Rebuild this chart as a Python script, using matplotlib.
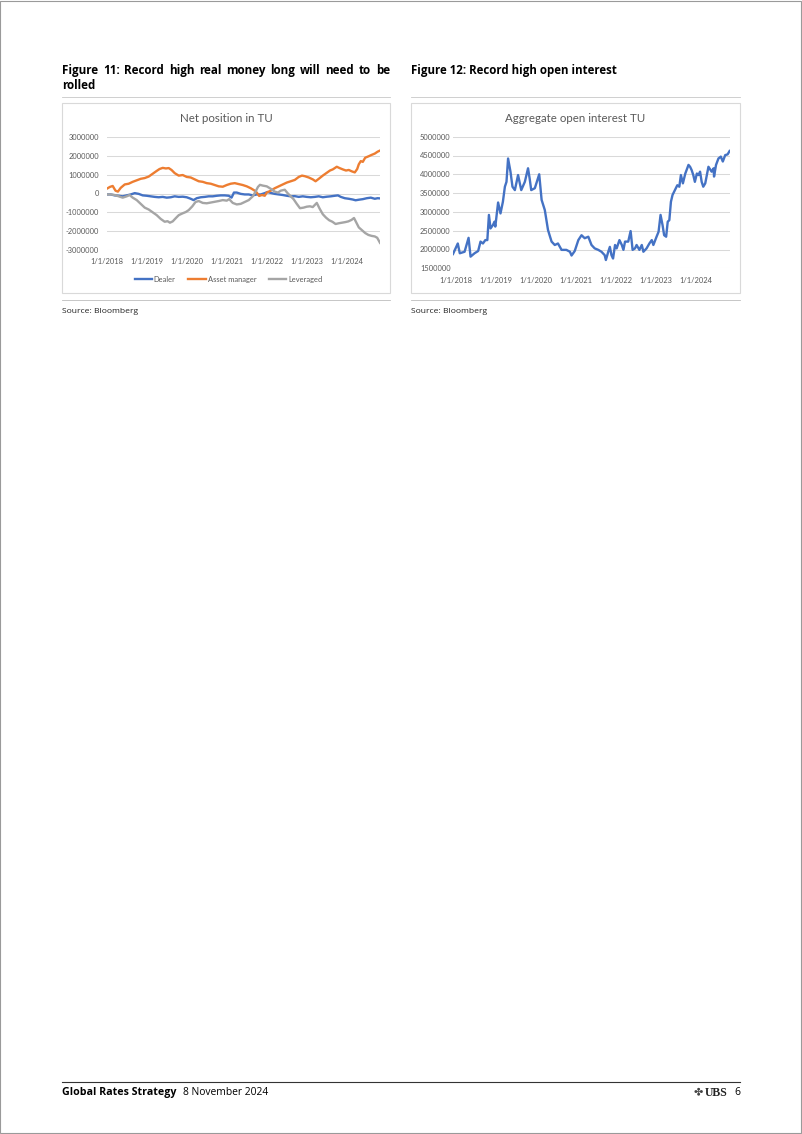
import numpy as np
import matplotlib
matplotlib.use("Agg")
import matplotlib.pyplot as plt
from matplotlib.lines import Line2D
from matplotlib.patches import Rectangle
from matplotlib.ticker import FuncFormatter

W, H = 802, 1134

# ---- Figure 11: net position in TU (x = decimal year, values in millions of contracts)
dealer_years = [2018.00, 2018.10, 2018.20, 2018.30, 2018.40, 2018.50, 2018.60, 2018.70, 2018.80, 2018.90,
                2019.00, 2019.10, 2019.20, 2019.30, 2019.40, 2019.50, 2019.60, 2019.70, 2019.80, 2019.90,
                2020.00, 2020.10, 2020.17, 2020.25, 2020.35, 2020.45, 2020.55, 2020.65, 2020.75, 2020.85,
                2020.95, 2021.05, 2021.12, 2021.18, 2021.25, 2021.35, 2021.45, 2021.55, 2021.65, 2021.75,
                2021.85, 2021.95, 2022.02, 2022.10, 2022.20, 2022.30, 2022.40, 2022.50, 2022.60, 2022.70,
                2022.80, 2022.90, 2023.00, 2023.10, 2023.20, 2023.30, 2023.40, 2023.50, 2023.60, 2023.70,
                2023.78, 2023.85, 2023.95, 2024.05, 2024.15, 2024.22, 2024.30, 2024.40, 2024.50, 2024.60,
                2024.70, 2024.77, 2024.83]
dealer_vals = [-0.05, -0.05, -0.10, -0.12, -0.15, -0.10, -0.05, 0.02, -0.02, -0.10,
               -0.12, -0.15, -0.18, -0.20, -0.18, -0.22, -0.20, -0.15, -0.18, -0.17,
               -0.20, -0.28, -0.35, -0.25, -0.20, -0.18, -0.15, -0.15, -0.12, -0.10,
               -0.10, -0.12, -0.22, 0.05, 0.05, -0.02, -0.05, -0.05, -0.10, -0.05,
               -0.05, 0.02, 0.08, 0.03, -0.02, -0.05, -0.08, -0.12, -0.15, -0.14,
               -0.18, -0.15, -0.18, -0.20, -0.18, -0.15, -0.20, -0.17, -0.15, -0.12,
               -0.10, -0.18, -0.25, -0.28, -0.32, -0.36, -0.33, -0.30, -0.25, -0.22,
               -0.28, -0.25, -0.26]

am_years = [2018.00, 2018.08, 2018.15, 2018.22, 2018.28, 2018.35, 2018.45, 2018.55, 2018.65, 2018.75,
            2018.85, 2018.95, 2019.05, 2019.15, 2019.25, 2019.32, 2019.40, 2019.48, 2019.55, 2019.62,
            2019.70, 2019.80, 2019.90, 2020.00, 2020.10, 2020.20, 2020.30, 2020.40, 2020.50, 2020.60,
            2020.70, 2020.80, 2020.90, 2021.00, 2021.10, 2021.20, 2021.30, 2021.40, 2021.50, 2021.60,
            2021.70, 2021.75, 2021.81, 2021.88, 2021.95, 2022.00, 2022.10, 2022.20, 2022.30, 2022.40,
            2022.50, 2022.60, 2022.70, 2022.80, 2022.88, 2022.95, 2023.05, 2023.15, 2023.22, 2023.30,
            2023.40, 2023.50, 2023.58, 2023.65, 2023.75, 2023.82, 2023.90, 2023.98, 2024.05, 2024.12,
            2024.20, 2024.26, 2024.30, 2024.35, 2024.40, 2024.46, 2024.55, 2024.62, 2024.70, 2024.77,
            2024.83]
am_vals = [0.25, 0.35, 0.40, 0.15, 0.10, 0.30, 0.48, 0.52, 0.62, 0.70,
           0.78, 0.82, 0.90, 1.05, 1.20, 1.30, 1.36, 1.33, 1.35, 1.25,
           1.08, 0.95, 0.98, 0.88, 0.85, 0.75, 0.65, 0.62, 0.55, 0.52,
           0.45, 0.38, 0.36, 0.45, 0.52, 0.55, 0.50, 0.45, 0.38, 0.28,
           0.15, 0.05, -0.13, -0.08, -0.12, 0.05, 0.15, 0.28, 0.38, 0.48,
           0.58, 0.65, 0.72, 0.88, 0.95, 0.92, 0.85, 0.75, 0.65, 0.78,
           0.95, 1.10, 1.22, 1.28, 1.42, 1.35, 1.28, 1.22, 1.25, 1.18,
           1.12, 1.30, 1.55, 1.72, 1.68, 1.90, 1.98, 2.05, 2.12, 2.22,
           2.28]

lev_years = [2018.00, 2018.10, 2018.20, 2018.30, 2018.40, 2018.50, 2018.57, 2018.65, 2018.75, 2018.85,
             2018.95, 2019.05, 2019.15, 2019.25, 2019.35, 2019.45, 2019.52, 2019.58, 2019.65, 2019.73,
             2019.80, 2019.90, 2019.98, 2020.05, 2020.14, 2020.22, 2020.30, 2020.40, 2020.50, 2020.60,
             2020.70, 2020.80, 2020.90, 2021.00, 2021.06, 2021.15, 2021.25, 2021.35, 2021.45, 2021.55,
             2021.65, 2021.72, 2021.78, 2021.83, 2021.90, 2022.00, 2022.10, 2022.20, 2022.28, 2022.35,
             2022.45, 2022.52, 2022.60, 2022.67, 2022.75, 2022.83, 2022.92, 2023.00, 2023.08, 2023.15,
             2023.25, 2023.32, 2023.40, 2023.48, 2023.56, 2023.64, 2023.72, 2023.80, 2023.88, 2023.96,
             2024.04, 2024.12, 2024.18, 2024.24, 2024.30, 2024.38, 2024.46, 2024.54, 2024.62, 2024.70,
             2024.76, 2024.83]
lev_vals = [-0.05, -0.05, -0.08, -0.15, -0.22, -0.15, -0.08, -0.22, -0.35, -0.55,
            -0.75, -0.85, -1.00, -1.15, -1.35, -1.50, -1.47, -1.55, -1.48, -1.30,
            -1.15, -1.05, -0.98, -0.88, -0.68, -0.45, -0.40, -0.50, -0.52, -0.48,
            -0.44, -0.40, -0.35, -0.38, -0.30, -0.50, -0.58, -0.55, -0.45, -0.35,
            -0.15, 0.10, 0.35, 0.46, 0.42, 0.38, 0.25, 0.10, 0.05, 0.15,
            0.20, 0.02, -0.15, -0.30, -0.55, -0.78, -0.75, -0.70, -0.68, -0.72,
            -0.50, -0.80, -1.10, -1.28, -1.42, -1.50, -1.62, -1.58, -1.55, -1.52,
            -1.48, -1.40, -1.30, -1.55, -1.80, -1.95, -2.10, -2.20, -2.25, -2.28,
            -2.35, -2.62]

# ---- Figure 12: aggregate open interest TU (millions of contracts)
oi_years = [2017.92, 2018.04, 2018.09, 2018.21, 2018.31, 2018.36, 2018.46, 2018.55, 2018.61, 2018.67,
            2018.73, 2018.78, 2018.82, 2018.86, 2018.92, 2018.96, 2018.98, 2019.05, 2019.11, 2019.17,
            2019.22, 2019.26, 2019.30, 2019.36, 2019.41, 2019.47, 2019.55, 2019.63, 2019.72, 2019.80,
            2019.84, 2019.88, 2019.97, 2020.08, 2020.14, 2020.22, 2020.30, 2020.34, 2020.39, 2020.47,
            2020.55, 2020.64, 2020.76, 2020.85, 2020.89, 2020.97, 2021.06, 2021.14, 2021.22, 2021.31,
            2021.39, 2021.47, 2021.56, 2021.64, 2021.72, 2021.75, 2021.81, 2021.85, 2021.89, 2021.93,
            2021.98, 2022.02, 2022.09, 2022.15, 2022.19, 2022.23, 2022.31, 2022.37, 2022.42, 2022.48,
            2022.52, 2022.59, 2022.65, 2022.69, 2022.77, 2022.84, 2022.90, 2022.94, 2023.02, 2023.07,
            2023.12, 2023.17, 2023.21, 2023.26, 2023.30, 2023.34, 2023.38, 2023.42, 2023.48, 2023.54,
            2023.59, 2023.63, 2023.68, 2023.74, 2023.82, 2023.86, 2023.90, 2023.94, 2023.98, 2024.03,
            2024.07, 2024.11, 2024.15, 2024.19, 2024.24, 2024.28, 2024.32, 2024.40, 2024.45, 2024.46,
            2024.51, 2024.57, 2024.63, 2024.68, 2024.74, 2024.80, 2024.85]
oi_vals = [1.88, 2.16, 1.90, 1.94, 2.31, 1.81, 1.90, 1.96, 2.21, 2.16,
           2.25, 2.25, 2.92, 2.56, 2.65, 2.74, 2.61, 3.25, 2.96, 3.27,
           3.67, 3.80, 4.42, 4.07, 3.67, 3.58, 3.98, 3.58, 3.80, 4.16,
           3.89, 3.58, 3.63, 4.00, 3.32, 3.05, 2.52, 2.38, 2.21, 2.12,
           2.16, 1.99, 1.99, 1.94, 1.84, 1.96, 2.25, 2.38, 2.30, 2.34,
           2.12, 2.03, 1.99, 1.94, 1.85, 1.72, 1.94, 2.07, 1.85, 1.76,
           2.12, 2.03, 2.25, 2.12, 1.99, 2.21, 2.21, 2.49, 1.99, 2.03,
           2.12, 1.99, 2.12, 1.94, 2.03, 2.16, 2.25, 2.12, 2.34, 2.47,
           2.92, 2.65, 2.38, 2.34, 2.74, 2.78, 3.27, 3.45, 3.58, 3.71,
           3.67, 3.98, 3.76, 4.02, 4.25, 4.20, 4.11, 3.98, 3.80, 4.02,
           3.98, 4.07, 3.80, 3.67, 3.76, 3.98, 4.20, 4.07, 4.16, 3.94,
           4.25, 4.42, 4.47, 4.34, 4.51, 4.53, 4.62]

tick_years = [2018, 2019, 2020, 2021, 2022, 2023, 2024]
tick_labels = ["1/1/2018", "1/1/2019", "1/1/2020", "1/1/2021", "1/1/2022", "1/1/2023", "1/1/2024"]
net_yticks = [-3000000, -2000000, -1000000, 0, 1000000, 2000000, 3000000]
oi_yticks = [1500000, 2000000, 2500000, 3000000, 3500000, 4000000, 4500000, 5000000]

BLUE, ORANGE, GREY = "#4472C4", "#ED7D31", "#A5A5A5"
TXT = "#595959"
DOC_FONT = ["Open Sans", "DejaVu Sans"]
plt.rcParams["font.family"] = ["Lato", "DejaVu Sans"]


def fx(x):
    return x / W


def fy(y):
    return 1 - y / H


fig = plt.figure(figsize=(W / 100, H / 100), dpi=100)


def hline(x0, x1, y, color, lw):
    fig.add_artist(Line2D([fx(x0), fx(x1)], [fy(y), fy(y)], color=color, lw=lw))


def box(x0, y0, x1, y1):
    fig.add_artist(Rectangle((fx(x0), fy(y1)), (x1 - x0) / W, (y1 - y0) / H,
                             transform=fig.transFigure, fill=False, ec="#d9d9d9", lw=0.8))


def justify(text, x0, x1, y, **kw):
    # spread words across the column like the justified report text
    words = text.split()
    objs = [fig.text(0, fy(y), w, va="baseline", ha="left", **kw) for w in words]
    r = fig.canvas.get_renderer()
    widths = [t.get_window_extent(r).width for t in objs]
    gap = ((x1 - x0) - sum(widths)) / (len(words) - 1)
    x = x0
    for t, w in zip(objs, widths):
        t.set_x(fx(x))
        x += w + gap


def style(ax, yticks, ypad, xpad):
    for s in ax.spines.values():
        s.set_visible(False)
    ax.set_yticks(yticks)
    ax.yaxis.set_major_formatter(FuncFormatter(lambda v, p: f"{int(round(v))}"))
    ax.yaxis.grid(True, color="#d9d9d9", lw=0.75)
    ax.set_axisbelow(True)
    ax.set_xticks(tick_years)
    ax.set_xticklabels(tick_labels)
    ax.tick_params(axis="both", length=0, labelsize=5.4, labelcolor=TXT)
    ax.tick_params(axis="y", pad=ypad)
    ax.tick_params(axis="x", pad=xpad)
    ax.set_ylim(yticks[0], yticks[-1])


# page frame
fig.add_artist(Rectangle((0.0006, 0.0005), 0.9985, 0.999, transform=fig.transFigure,
                         fill=False, ec="#9a9a9a", lw=0.8))

# ---------------- left panel
justify("Figure 11: Record high real money long will need to be", 62, 390, 74,
        fontsize=8.4, fontweight="bold", family=DOC_FONT, color="black")
fig.text(fx(62), fy(89), "rolled", fontsize=8.4, fontweight="bold", family=DOC_FONT,
         va="baseline", ha="left", color="black")
hline(62, 390, 96.7, "#c8c8c8", 0.6)
box(62, 103, 390, 293)
hline(62, 390, 300, "#bdbdbd", 0.6)
fig.text(fx(62), fy(311.5), "Source: Bloomberg", fontsize=6.1, family=DOC_FONT,
         va="center", ha="left", color="#222222")
fig.text(fx(226), fy(118.5), "Net position in TU", fontsize=8.3, color=TXT, ha="center", va="center")

ax1 = fig.add_axes([fx(106.7), fy(250), (380 - 106.7) / W, (250 - 137) / H])
ax1.plot(dealer_years, np.array(dealer_vals) * 1e6, color=BLUE, lw=1.7, label="Dealer")
ax1.plot(am_years, np.array(am_vals) * 1e6, color=ORANGE, lw=1.7, label="Asset manager")
ax1.plot(lev_years, np.array(lev_vals) * 1e6, color=GREY, lw=1.7, label="Leveraged")
ax1.set_xlim(2018.0, 2024.83)
style(ax1, net_yticks, 5.5, 6.0)
leg = ax1.legend(loc="center", bbox_to_anchor=(fx(228.5), fy(279.5)), bbox_transform=fig.transFigure,
                 ncol=3, frameon=False, fontsize=5.4, handlelength=2.3, handletextpad=0.25,
                 columnspacing=1.7)
for t in leg.get_texts():
    t.set_color(TXT)

# ---------------- right panel
fig.text(fx(411), fy(74), "Figure 12: Record high open interest", fontsize=8.3, fontweight="bold",
         family=DOC_FONT, va="baseline", ha="left", color="black")
hline(411, 740, 96.7, "#c8c8c8", 0.6)
box(411, 103, 740, 293)
hline(411, 740, 300, "#bdbdbd", 0.6)
fig.text(fx(411), fy(311.5), "Source: Bloomberg", fontsize=6.1, family=DOC_FONT,
         va="center", ha="left", color="#222222")
fig.text(fx(575.5), fy(118.5), "Aggregate open interest TU", fontsize=8.3, color=TXT,
         ha="center", va="center")

ax2 = fig.add_axes([fx(453), fy(268.3), (730 - 453) / W, (268.3 - 136.7) / H])
ax2.plot(oi_years, np.array(oi_vals) * 1e6, color=BLUE, lw=1.7)
ax2.set_xlim(2017.92, 2024.86)
style(ax2, oi_yticks, 1.8, 6.5)

# ---------------- footer
hline(62, 740, 1082, "#333333", 0.8)
fig.text(fx(62), fy(1092.5), "Global Rates Strategy", fontsize=7.7, fontweight="bold",
         family=DOC_FONT, va="center", ha="left", color="black")
fig.text(fx(183), fy(1092.5), "8 November 2024", fontsize=7.4, family=DOC_FONT,
         va="center", ha="left", color="black")
fig.text(fx(698), fy(1092.5), "\u2724", fontsize=8, family=["DejaVu Sans"], va="center",
         ha="center", color="#444444")
fig.text(fx(705), fy(1092.5), "UBS", fontsize=8.5, fontweight="bold", family=["Liberation Serif"],
         va="center", ha="left", color="#222222")
fig.text(fx(740), fy(1092.5), "6", fontsize=7.4, family=DOC_FONT, va="center", ha="right",
         color="black")

fig.savefig("out.png", dpi=100)
